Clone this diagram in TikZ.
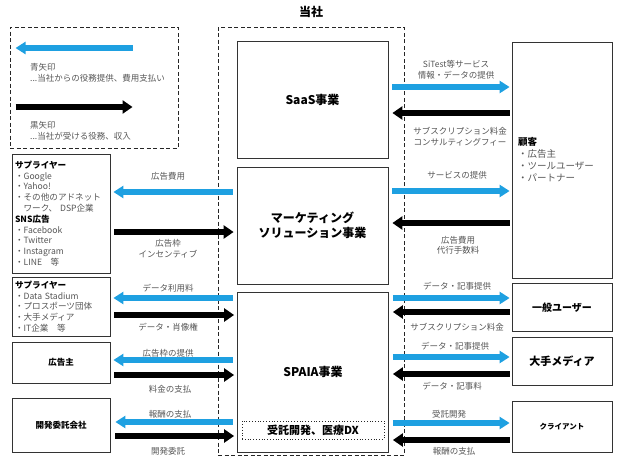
\documentclass[tikz,border=0pt]{standalone}
\usepackage{fontspec}
\setmainfont{Noto Sans CJK JP}
\usetikzlibrary{arrows.meta}

\definecolor{arrowblue}{RGB}{30,160,225}
\definecolor{labelgray}{RGB}{85,85,85}

\tikzset{
  box/.style={draw=black!80, line width=0.8pt, inner sep=0pt, align=center},
  dashbox/.style={draw=black!85, line width=0.9pt, dash pattern=on 4pt off 2.5pt},
  bizbox/.style={box, minimum width=151pt, font=\bfseries\fontsize{12}{15}\selectfont},
  sidebox/.style={box, minimum width=98pt, font=\bfseries\fontsize{8.5}{10}\selectfont},
  custbox/.style={box, minimum width=100pt},
  listtext/.style={align=left, text=labelgray, font=\fontsize{8.6}{10.8}\selectfont},
  lbl/.style={font=\fontsize{8.5}{10.5}\selectfont, text=labelgray, align=center, inner sep=0pt},
  bluearr/.style={draw=arrowblue, line width=5.5pt, -{Triangle[length=10pt,width=12pt]}},
  blackarr/.style={draw=black, line width=6pt, -{Triangle[length=10pt,width=13pt]}},
}

\begin{document}
\begin{tikzpicture}[x=1pt, y=-1pt, thin]
\useasboundingbox (0,0) rectangle (621,458);

% legend
\node[dashbox, minimum width=168pt, minimum height=121pt] (legend) at (94,87.5) {};
\draw[bluearr] ([xshift=123pt]legend.west |- 0,48) -- ([xshift=6pt]legend.west |- 0,48);
\node[lbl, anchor=west, align=left, font=\fontsize{8.5}{11}\selectfont] (legend-blue) at (30,72.5) {青矢印\\...当社からの役務提供、費用支払い};
\draw[blackarr] ([xshift=6pt]legend.west |- 0,107) -- ([xshift=123pt]legend.west |- 0,107);
\node[lbl, anchor=west, align=left, font=\fontsize{8.5}{11}\selectfont] (legend-black) at (30,130.5) {黒矢印\\...当社が受ける役務、収入};

% company
\node[font=\bfseries\fontsize{12}{14}\selectfont] (tosha) at (311,12) {当社};
\node[dashbox, minimum width=186pt, minimum height=428pt] (company) at (311,241) {};
\node[bizbox, minimum height=117pt] (saas) at (312.5,99.5) {SaaS事業};
\node[bizbox, minimum height=117pt] (mkt) at (312.5,225.5) {マーケティング\\ソリューション事業};
\node[bizbox, minimum height=160pt] (spaia) at (313,372) {SPAIA事業};
\node[draw=black!85, dotted, line width=0.8pt, minimum width=142pt, minimum height=18pt, inner sep=0pt,
  font=\bfseries\fontsize{11}{13}\selectfont] (dx) at (313,430) {受託開発、医療DX};

% left side
\node[sidebox, minimum height=119pt] (sup1) at (61,213.5) {};
\node[listtext, text width=92pt, anchor=center] (sup1-list) at (sup1) {%
  \textcolor{black}{\bfseries サプライヤー}\\
  ・Google\\
  ・Yahoo!\\
  ・その他のアドネット\\
  \hphantom{・}ワーク、 DSP企業\\
  \textcolor{black}{\bfseries SNS広告}\\
  ・Facebook\\
  ・Twitter\\
  ・Instagram\\
  ・LINE　等};
\node[sidebox, minimum height=59pt] (sup2) at (61,306.5) {};
\node[listtext, text width=92pt, anchor=center] (sup2-list) at (sup2) {%
  \textcolor{black}{\bfseries サプライヤー}\\
  ・Data Stadium\\
  ・プロスポーツ団体\\
  ・大手メディア\\
  ・IT企業　等};
\node[sidebox, minimum height=41pt] (adv) at (61,362.5) {広告主};
\node[sidebox, minimum height=54pt] (dev) at (61,425) {開発委託会社};

% right side
\node[custbox, minimum height=236pt] (cust) at (562,160) {};
\node[listtext, text width=88pt, anchor=center, font=\fontsize{9.5}{12}\selectfont] (cust-list) at (cust) {%
  \textcolor{black}{\bfseries 顧客}\\
  ・広告主\\
  ・ツールユーザー\\
  ・パートナー};
\node[custbox, minimum height=48pt, font=\bfseries\fontsize{10}{12}\selectfont] (user) at (562,307.5) {一般ユーザー};
\node[custbox, minimum height=48pt, font=\bfseries\fontsize{11}{13}\selectfont] (media) at (562,361) {大手メディア};
\node[custbox, minimum height=51pt, font=\bfseries\fontsize{7.5}{9}\selectfont] (client) at (562,426.5) {クライアント};

% arrows left
\draw[bluearr] ([xshift=-4pt]mkt.west |- 0,192) -- ([xshift=3pt]sup1.east |- 0,192);
\draw[blackarr] ([xshift=4pt]sup1.east |- 0,232) -- ([xshift=-3pt]mkt.west |- 0,232);
\draw[bluearr] ([xshift=-4pt]spaia.west |- 0,298) -- ([xshift=3pt]sup2.east |- 0,298);
\draw[blackarr] ([xshift=4pt]sup2.east |- 0,315) -- ([xshift=-3pt]spaia.west |- 0,315);
\draw[bluearr] ([xshift=-4pt]spaia.west |- 0,360) -- ([xshift=3pt]adv.east |- 0,360);
\draw[blackarr] ([xshift=4pt]adv.east |- 0,375) -- ([xshift=-3pt]spaia.west |- 0,375);
\draw[bluearr] ([xshift=-4pt]spaia.west |- 0,422) -- ([xshift=5pt]dev.east |- 0,422);
\draw[blackarr] ([xshift=5pt]dev.east |- 0,436) -- ([xshift=-3pt]spaia.west |- 0,436);

\node[lbl] (l-adfee) at (168,176) {広告費用};
\node[lbl] (l-incent) at (168,249) {広告枠\\インセンティブ};
\node[lbl] (l-datafee) at (168,288) {データ利用料};
\node[lbl] (l-portrait) at (168,327) {データ・肖像権};
\node[lbl] (l-adslot) at (168,353) {広告枠の提供};
\node[lbl] (l-charge) at (170,389) {料金の支払};
\node[lbl] (l-reward) at (170,414) {報酬の支払};
\node[lbl] (l-devorder) at (168,451) {開発委託};

% arrows right
\draw[bluearr] ([xshift=4pt]saas.east |- 0,87) -- ([xshift=-2pt]cust.west |- 0,87);
\draw[blackarr] ([xshift=-2pt]cust.west |- 0,113) -- ([xshift=4pt]saas.east |- 0,113);
\draw[bluearr] ([xshift=4pt]mkt.east |- 0,191) -- ([xshift=-2pt]cust.west |- 0,191);
\draw[blackarr] ([xshift=-2pt]cust.west |- 0,223) -- ([xshift=4pt]mkt.east |- 0,223);
\draw[bluearr] ([xshift=4pt]spaia.east |- 0,298) -- ([xshift=-2pt]user.west |- 0,298);
\draw[blackarr] ([xshift=-2pt]user.west |- 0,312) -- ([xshift=4pt]spaia.east |- 0,312);
\draw[bluearr] ([xshift=4pt]spaia.east |- 0,357) -- ([xshift=-2pt]media.west |- 0,357);
\draw[blackarr] ([xshift=-2pt]media.west |- 0,374) -- ([xshift=4pt]spaia.east |- 0,374);
\draw[bluearr] ([xshift=4pt]spaia.east |- 0,423) -- ([xshift=-2pt]client.west |- 0,423);
\draw[blackarr] ([xshift=-2pt]client.west |- 0,440) -- ([xshift=4pt]spaia.east |- 0,440);

\node[lbl] (r-sitest) at (456,70) {SiTest等サービス\\情報・データの提供};
\node[lbl] (r-subsc) at (460,136.5) {サブスクリプション料金\\コンサルティングフィー};
\node[lbl] (r-service) at (457,175) {サービスの提供};
\node[lbl] (r-agency) at (458,245.5) {広告費用\\代行手数料};
\node[lbl] (r-article) at (457,286) {データ・記事提供};
\node[lbl] (r-subsc2) at (457,327) {サブスクリプション料金};
\node[lbl] (r-article2) at (455,346) {データ・記事提供};
\node[lbl] (r-articlefee) at (452,386) {データ・記事料};
\node[lbl] (r-contract) at (449,414) {受託開発};
\node[lbl] (r-reward) at (454,451) {報酬の支払};

\end{tikzpicture}
\end{document}
